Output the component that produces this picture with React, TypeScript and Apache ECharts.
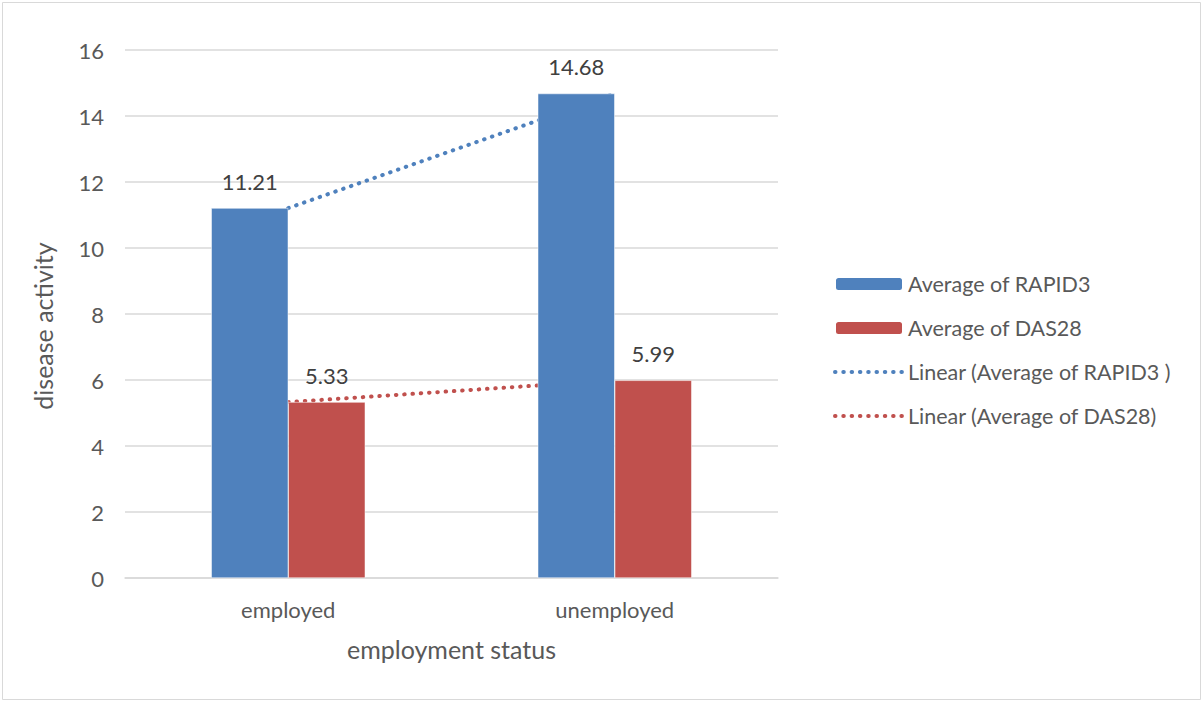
import React, { useEffect, useRef } from "react";
import * as echarts from "echarts";

const categories = ["employed", "unemployed"];
const rapid3 = [11.21, 14.68];
const das28 = [5.33, 5.99];
const rapid3Trend = [11.21, 14.68];
const das28Trend = [5.33, 5.99];
const yTicks = { min: 0, max: 16, interval: 2 };
const xTitle = "employment status";
const yTitle = "disease activity";

const FONT = "Lato, 'Open Sans', sans-serif";
const BLUE = "#4f81bd";
const RED = "#c0504d";
const LABEL = 22;
const TITLE = 25;
const DOTS = [0.5, 7.8];

export default function App() {
  const ref = useRef<HTMLDivElement>(null);
  useEffect(() => {
    if (!ref.current) return;
    const chart = echarts.init(ref.current, undefined, { renderer: "svg" });
    chart.setOption({
      animation: false,
      backgroundColor: "#ffffff",
      textStyle: { fontFamily: FONT },
      graphic: [
        {
          type: "rect",
          shape: { x: 2.5, y: 2.5, width: 1198, height: 697 },
          style: { fill: "none", stroke: "#d9d9d9", lineWidth: 1 },
          silent: true,
        },
        {
          type: "text",
          x: 43,
          y: 326,
          rotation: Math.PI / 2,
          style: {
            text: yTitle,
            fontFamily: FONT,
            fontSize: TITLE,
            fill: "#595959",
            align: "center",
            verticalAlign: "middle",
          },
          silent: true,
        },
      ],
      grid: { left: 125, right: 426, top: 50, bottom: 124 },
      legend: {
        orient: "vertical",
        left: 828,
        top: 268,
        itemWidth: 68,
        itemHeight: 14,
        itemGap: 22,
        lineStyle: { width: 4, type: DOTS, cap: "round" },
        textStyle: { fontFamily: FONT, fontSize: 21.5, color: "#595959" },
        data: [
          { name: "Average of RAPID3" },
          { name: "Average of DAS28" },
          { name: "Linear (Average of RAPID3 )", itemStyle: { opacity: 0 } },
          { name: "Linear (Average of DAS28)", itemStyle: { opacity: 0 } },
        ],
      },
      xAxis: {
        type: "category",
        data: categories,
        name: xTitle,
        nameLocation: "middle",
        nameGap: 58,
        nameTextStyle: { fontFamily: FONT, fontSize: TITLE, color: "#595959" },
        axisLine: { lineStyle: { color: "#d9d9d9", width: 1.5 } },
        axisTick: { show: false },
        axisLabel: { fontFamily: FONT, fontSize: LABEL, color: "#595959", margin: 20 },
      },
      yAxis: {
        type: "value",
        min: yTicks.min,
        max: yTicks.max,
        interval: yTicks.interval,
        axisLine: { show: false },
        axisTick: { show: false },
        axisLabel: { fontFamily: FONT, fontSize: LABEL, color: "#595959", margin: 21 },
        splitLine: { lineStyle: { color: "#d9d9d9", width: 1.5 } },
      },
      series: [
        {
          name: "Average of RAPID3",
          type: "bar",
          data: rapid3,
          barWidth: 77,
          barGap: "0%",
          z: 3,
          itemStyle: { color: BLUE, borderColor: "#ffffff", borderWidth: 0.5 },
          label: {
            show: true,
            position: "top",
            distance: 16,
            fontFamily: FONT,
            fontSize: LABEL,
            color: "#404040",
            formatter: (p: any) => p.value.toFixed(2),
          },
        },
        {
          name: "Average of DAS28",
          type: "bar",
          data: das28,
          barWidth: 77,
          z: 3,
          itemStyle: { color: RED, borderColor: "#ffffff", borderWidth: 0.5 },
          label: {
            show: true,
            position: "top",
            distance: 16,
            fontFamily: FONT,
            fontSize: LABEL,
            color: "#404040",
            formatter: (p: any) => p.value.toFixed(2),
          },
        },
        {
          name: "Linear (Average of RAPID3 )",
          type: "line",
          data: rapid3Trend,
          symbol: "none",
          z: 1,
          itemStyle: { color: BLUE },
          lineStyle: { color: BLUE, width: 4, type: DOTS, cap: "round" },
        },
        {
          name: "Linear (Average of DAS28)",
          type: "line",
          data: das28Trend,
          symbol: "none",
          z: 1,
          itemStyle: { color: RED },
          lineStyle: { color: RED, width: 4, type: DOTS, cap: "round" },
        },
      ],
    });
    return () => chart.dispose();
  }, []);
  return (
    <div
      ref={ref}
      style={{ position: "fixed", left: 0, top: 0, width: 1204, height: 702 }}
    />
  );
}
